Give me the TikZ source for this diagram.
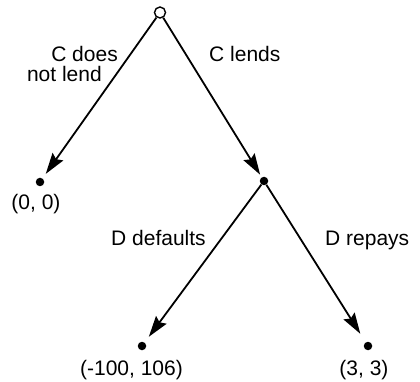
\documentclass[tikz,border=0pt]{standalone}
\usepackage{fontspec}
\setmainfont{Liberation Sans}
\usetikzlibrary{arrows.meta}
\begin{document}
\begin{tikzpicture}[x=1pt,y=-1pt,
  edge/.style={line width=1.8pt,-{Stealth[length=21pt,width=13pt,inset=3pt]}},
  dotnode/.style={circle,fill=black,inner sep=0pt,minimum size=8.5pt},
  opennode/.style={circle,draw=black,line width=1.4pt,fill=white,inner sep=0pt,minimum size=11pt},
  lbl/.style={font=\fontsize{21}{24}\selectfont,inner sep=0pt}]
\useasboundingbox (0,0) rectangle (420,382);
\node[opennode] (root) at (160,12.5) {};
\node[dotnode] (a) at (40,182) {};
\node[dotnode] (m) at (264,181) {};
\node[dotnode] (b) at (142,346) {};
\node[dotnode] (c) at (368,346) {};
\draw[edge,shorten >=5.5pt] (root) -- (a);
\draw[edge,shorten >=3pt] (root) -- (m);
\draw[edge,shorten >=7pt] (m) -- (b);
\draw[edge,shorten >=10pt] (m) -- (c);
\node[lbl,anchor=base east] (l1) at (118,62) {C does};
\node[lbl,anchor=base east] (l2) at (102,82) {not lend};
\node[lbl,anchor=base west] (l3) at (209,62) {C lends};
\node[lbl,anchor=base] (p1) at (36,209) {(0, 0)};
\node[lbl,anchor=base west] (l4) at (111,245) {D defaults};
\node[lbl,anchor=base west] (l5) at (325,245) {D repays};
\node[lbl,anchor=base] (p2) at (131.5,375) {(-100, 106)};
\node[lbl,anchor=base] (p3) at (364,375) {(3, 3)};
\end{tikzpicture}
\end{document}
